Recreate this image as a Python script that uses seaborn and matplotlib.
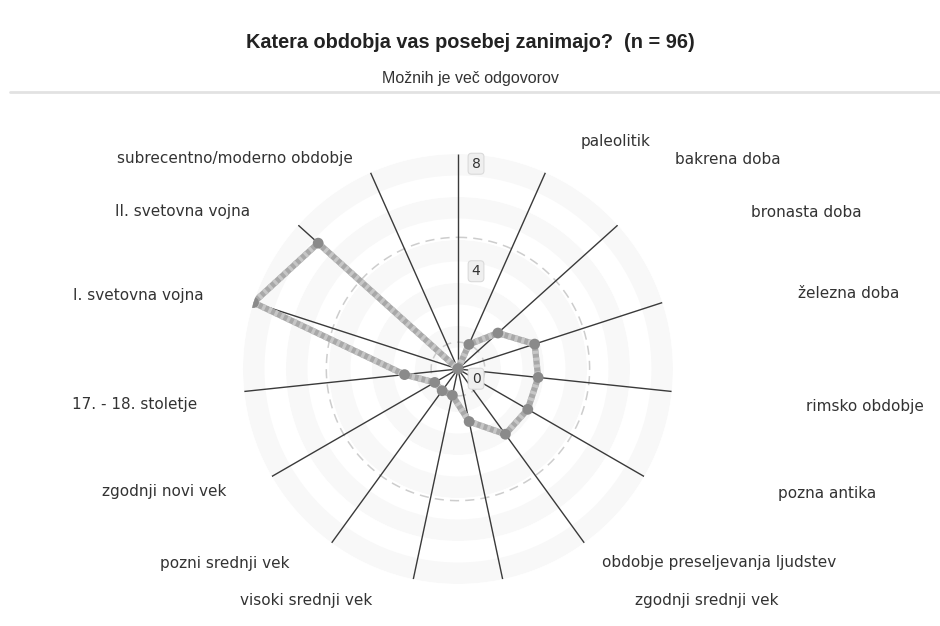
import numpy as np
import pandas as pd
import matplotlib
matplotlib.use("Agg")
import matplotlib.pyplot as plt
from matplotlib.lines import Line2D
import seaborn as sns

# Podatki (vrednosti odčitane s slike)
obdobja = [
    "paleolitik", "bakrena doba", "bronasta doba", "železna doba",
    "rimsko obdobje", "pozna antika", "obdobje preseljevanja ljudstev",
    "zgodnji srednji vek", "visoki srednji vek", "pozni srednji vek",
    "zgodnji novi vek", "17. - 18. stoletje", "I. svetovna vojna",
    "II. svetovna vojna", "subrecentno/moderno obdobje",
]
odgovori = [0, 1, 2, 3, 3, 3, 3, 2, 1, 1, 1, 2, 8, 7, 0]
radialne_oznake = [0, 4, 8]

naslov = "Katera obdobja vas posebej zanimajo?  (n = 96)"
podnaslov = "Možnih je več odgovorov"

# Postavitev oznak kategorij (kot v stopinjah, polmer v enotah osi)
oznake_kot = [34.6, 52.2, 65.8, 79.0, 95.2, 108.7, 126.6, 133.0,
              213.2, 230.2, 247.3, 263.8, 283.0, 299.7, 313.4]
oznake_r = [10.3, 12.7, 14.2, 14.8, 15.2, 14.5, 12.1, 12.65,
            10.3, 11.3, 11.85, 12.1, 12.2, 11.8, 11.4]

sns.set_theme(style="white")
plt.rcParams["font.family"] = ["DejaVu Sans"]

n = len(obdobja)
koti = np.linspace(0, 2 * np.pi, n, endpoint=False)
df = pd.DataFrame({"theta": np.append(koti, 2 * np.pi),
                   "vrednost": odgovori + [odgovori[0]]})

fig = plt.figure(figsize=(9.4, 6.26), dpi=100)
ax = fig.add_axes([0.2585, 0.0671, 0.4574, 0.6869], projection="polar")
ax.set_theta_zero_location("N")
ax.set_theta_direction(-1)
ax.set_ylim(0, 8)
ax.grid(False)
ax.spines["polar"].set_visible(False)
ax.set_xticks([])
ax.set_yticks([])
ax.set_facecolor("white")

# zelo svetli pasovi v ozadju
for k in range(10):
    barva = "#f8f8f8" if k % 2 == 1 else "#ffffff"
    ax.bar(0, 0.8, width=2 * np.pi, bottom=k * 0.8, color=barva, linewidth=0, zorder=0)

# črtkani krogi
t = np.linspace(0, 2 * np.pi, 300)
for r in [1, 4.9]:
    ax.plot(t, np.full_like(t, r), color="#cdcdcd", lw=1.1, ls=(0, (6, 4)), zorder=1)

# žarki
ax.vlines(koti, 0, 8, color="#3a3a3a", lw=1.0, zorder=2)

# podatkovna črta (s črtastim vzorcem)
sns.lineplot(data=df, x="theta", y="vrednost", ax=ax, sort=False,
             color="#a8a8a8", lw=4.5, zorder=3, legend=False)
ax.plot(df["theta"], df["vrednost"], color="#c6c6c6", lw=4.5,
        ls=(0, (0.5, 0.6)), zorder=3.1)
sns.scatterplot(data=df, x="theta", y="vrednost", ax=ax, color="#8a8a8a",
                s=60, edgecolor="none", zorder=4, legend=False)
ax.set_xlabel("")
ax.set_ylabel("")

# radialne oznake
for v in radialne_oznake:
    ax.annotate(str(v), xy=(0, v), xytext=(13, -7), textcoords="offset points",
                ha="center", va="center", fontsize=10, color="#333333",
                bbox=dict(boxstyle="round,pad=0.25", fc="#efefef", ec="#dadada", lw=0.8),
                zorder=5)

# oznake kategorij
for ime, kot, r in zip(obdobja, oznake_kot, oznake_r):
    ax.text(np.deg2rad(kot), r, ime, ha="center", va="center", fontsize=11,
            color="#333333", clip_on=False)

fig.text(0.5, 1 - 42 / 626, naslov, ha="center", va="center", fontsize=14.3,
         fontweight="bold", family="Liberation Sans", color="#222222")
fig.text(0.5, 1 - 78 / 626, podnaslov, ha="center", va="center", fontsize=11.5,
         family="Liberation Sans", color="#333333")
fig.add_artist(Line2D([0.011, 1.0], [1 - 92 / 626] * 2, color="#e2e2e2", lw=2))

fig.savefig("out.png", dpi=100)
